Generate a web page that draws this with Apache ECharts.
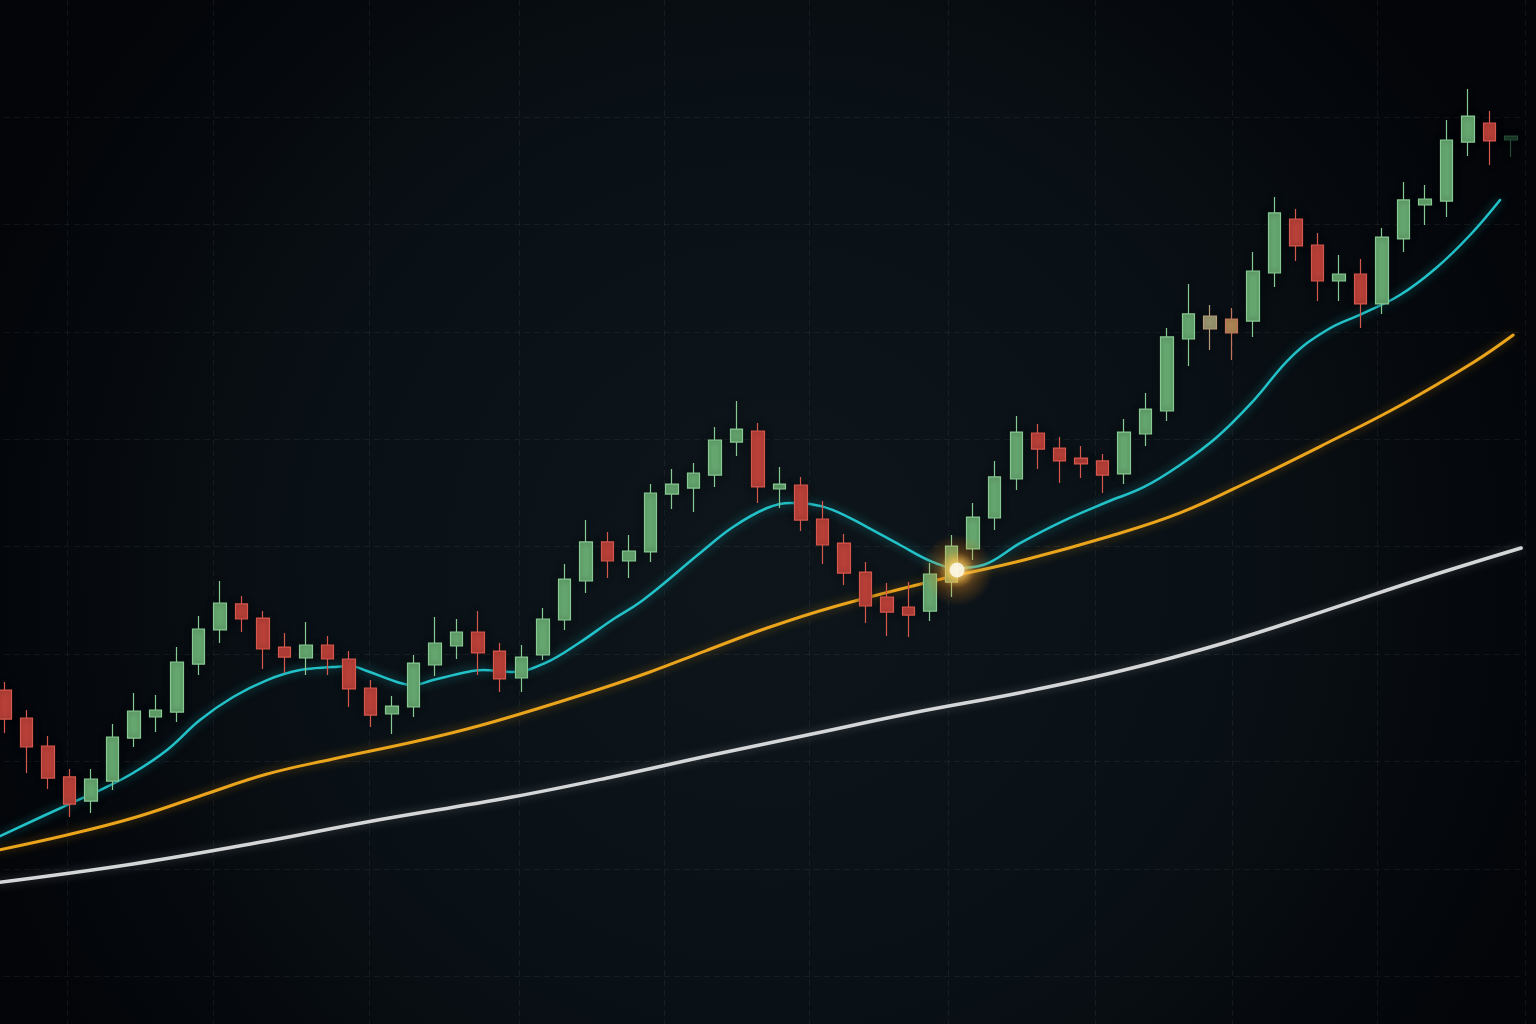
<!DOCTYPE html>
<html>
<head>
<meta charset="utf-8">
<title>Candles with moving averages</title>
<script src="https://cdn.jsdelivr.net/npm/echarts@6/dist/echarts.min.js"></script>
<style>
  html, body { margin: 0; padding: 0; background: #070b0f; }
  #chart { width: 1536px; height: 1024px; }
</style>
</head>
<body>
<div id="chart"></div>
<script>
// OHLC: [open, close, low, high]
const candles = [
  [126.66, 123.96, 122.66, 127.41], [124.06, 121.36, 118.94, 124.80], [121.45, 118.47, 117.45, 122.38],
  [118.57, 116.05, 114.84, 119.31], [116.33, 118.38, 115.21, 119.31], [118.19, 122.29, 117.35, 123.50],
  [122.19, 124.71, 121.36, 126.38], [124.15, 124.80, 122.75, 126.20], [124.61, 129.27, 123.68, 130.66],
  [129.08, 132.34, 128.06, 133.55], [132.25, 134.76, 131.04, 136.81], [134.67, 133.27, 132.06, 135.41],
  [133.36, 130.48, 128.62, 134.01], [130.66, 129.73, 128.24, 131.97], [129.64, 130.85, 128.06, 132.99],
  [130.85, 129.55, 128.06, 131.69], [129.55, 126.76, 125.08, 130.29], [126.85, 124.33, 123.22, 127.59],
  [124.43, 125.17, 122.57, 126.10], [125.08, 129.17, 124.15, 129.92], [128.99, 131.04, 127.96, 133.46],
  [130.76, 132.06, 129.55, 133.27], [132.06, 130.11, 128.06, 134.01], [130.29, 127.69, 126.48, 131.04],
  [127.78, 129.73, 126.48, 130.85], [129.92, 133.27, 129.45, 134.29], [133.18, 136.99, 132.25, 138.39],
  [136.81, 140.44, 135.69, 142.48], [140.44, 138.67, 137.09, 141.37], [138.67, 139.60, 137.09, 141.09],
  [139.51, 145.00, 138.57, 145.83], [144.90, 145.83, 143.51, 147.23], [145.46, 146.86, 143.23, 147.79],
  [146.67, 149.93, 145.56, 151.14], [149.74, 150.95, 148.44, 153.56], [150.77, 145.56, 144.07, 151.51],
  [145.37, 145.83, 143.60, 147.42], [145.74, 142.48, 141.46, 146.49], [142.58, 140.16, 138.39, 144.25],
  [140.34, 137.55, 136.43, 141.18], [137.64, 134.48, 132.90, 138.57], [135.32, 133.92, 131.69, 136.62],
  [134.39, 133.64, 131.59, 136.71], [134.01, 137.46, 133.08, 138.48], [136.71, 140.06, 135.32, 141.09],
  [139.79, 142.76, 138.76, 144.07], [142.67, 146.49, 141.55, 147.98], [146.30, 150.67, 145.28, 152.16],
  [150.58, 149.09, 147.23, 151.42], [149.18, 147.98, 145.93, 150.21], [148.25, 147.70, 146.39, 149.37],
  [147.98, 146.67, 145.00, 148.63], [146.77, 150.67, 145.83, 151.88], [150.49, 152.81, 149.37, 154.30],
  [152.63, 159.52, 151.70, 160.35], [159.33, 161.66, 156.82, 164.45], [160.26, 161.47, 158.31, 162.49],
  [161.19, 159.89, 157.37, 162.21], [161.00, 165.66, 159.52, 167.43], [165.47, 171.06, 164.17, 172.55],
  [170.50, 167.99, 166.59, 171.43], [168.08, 164.73, 162.87, 169.20], [164.73, 165.38, 162.87, 167.15],
  [165.38, 162.59, 160.35, 166.78], [162.59, 168.82, 161.66, 169.66], [168.64, 172.27, 167.43, 173.94],
  [171.80, 172.36, 169.94, 173.66], [172.17, 177.85, 170.68, 179.71], [177.66, 180.08, 176.36, 182.60],
  [179.43, 177.76, 175.52, 180.55], [177.85, 178.22, 176.27, 178.22]
];
const days = candles.map((_, i) => 'D' + (i + 1));

// moving averages as [candle index, value]
const maFast = [
  [-0.5, 112.8], [2.89, 115.96], [4.43, 117.35], [5.96, 118.94], [7.54, 121.08], [9.07, 123.87],
  [10.61, 126.01], [12.19, 127.59], [13.72, 128.52], [15.25, 128.8], [16.04, 128.9], [16.83, 128.43],
  [18.37, 127.31], [18.97, 127.13], [19.9, 127.59], [21.48, 128.34], [22.22, 128.52], [23.57, 128.34],
  [25.1, 129.17], [26.68, 131.04], [28.22, 133.18], [29.66, 135.04], [32.31, 139.41], [33.84, 141.83],
  [35.42, 143.6], [36.49, 144.07], [37.42, 143.97], [38.49, 143.41], [40.07, 141.83], [41.6, 140.16],
  [43.13, 138.57], [44.25, 138.02], [45.46, 138.3], [47.18, 140.34], [49.17, 142.39], [51.22, 144.16],
  [52.94, 145.56], [54.61, 147.6], [56.33, 150.21], [58.05, 153.65], [59.77, 157.65], [61.44, 160.17],
  [63.16, 161.75], [64.83, 163.42], [66.51, 165.94], [68.09, 169.01], [69.48, 172.27]
];
const maMid = [
  [-0.5, 111.68], [2.89, 113.17], [5.96, 114.75], [9.07, 116.8], [12.19, 118.84], [15.25, 120.24],
  [18.97, 121.82], [21.48, 123.03], [23.94, 124.43], [27.66, 126.76], [29.98, 128.34], [32.54, 130.29],
  [35.42, 132.43], [38.49, 134.39], [43.13, 136.81], [47.36, 138.76], [51.22, 140.9], [54.61, 143.14],
  [58.05, 146.3], [61.44, 149.65], [64.88, 153.19], [68.27, 157.19], [70.09, 159.7]
];
const maSlow = [
  [-0.5, 108.7], [5.96, 110.47], [12.19, 112.61], [16.83, 114.38], [23.57, 116.7], [28.22, 118.57],
  [32.86, 120.61], [37.51, 122.57], [42.16, 124.52], [47.36, 126.48], [52.01, 128.52], [56.66, 131.04],
  [61.3, 134.01], [65.95, 137.09], [70.46, 139.88]
];

// where the fast average touches the mid one
const crossPoint = [44.25, 137.83];

// grid: price levels and the candle positions of the vertical lines
const priceMin = 100;
const priceMax = 190;
const priceStep = 10;
const vGridAt = [2.89, 9.68, 16.93, 23.9, 30.63, 37.37, 43.83, 50.66, 57.03, 63.77, 70.64];

const UP = '#68aa72', UP_EDGE = '#86c993';
const DOWN = '#bd423a', DOWN_EDGE = '#d6574d';

// a few candles in the picture carry odd tints
const oddCandles = {
  56: { color: '#9d9a72', color0: '#9d9a72', borderColor: '#b69a7a', borderColor0: '#b69a7a' },
  57: { color: '#b48a57', color0: '#b48a57', borderColor: '#c0765c', borderColor0: '#c0765c' },
  70: { color: '#1d3b2a', color0: '#1d3b2a', borderColor: '#244a34', borderColor0: '#244a34' },
};

const chart = echarts.init(document.getElementById('chart'));

const gridLine = { show: true, lineStyle: { color: 'rgba(150,170,180,0.09)', type: [6, 4], width: 1 } };
const bare = { axisLine: { show: false }, axisTick: { show: false }, axisLabel: { show: false } };

function maSeries(data, color, width, glow) {
  return {
    type: 'line',
    xAxisIndex: 1,
    yAxisIndex: 0,
    data,
    smooth: 0.4,
    showSymbol: false,
    silent: true,
    z: 2,
    lineStyle: { color, width, shadowBlur: 10, shadowColor: glow, cap: 'round' },
  };
}

chart.setOption({
  animation: false,
  backgroundColor: {
    type: 'radial', x: 0.5, y: 0.55, r: 0.8,
    colorStops: [
      { offset: 0, color: '#0e161b' },
      { offset: 0.55, color: '#0a1116' },
      { offset: 1, color: '#030509' },
    ],
  },
  grid: [
    { left: -6, right: 14, top: 9.45, bottom: 47.5, outerBoundsMode: 'none' },
    { left: -6, right: 3.3, top: 0, bottom: 0, outerBoundsMode: 'none' },
  ],
  xAxis: [
    { type: 'category', gridIndex: 0, data: days, boundaryGap: true, ...bare, splitLine: { show: false } },
    { type: 'value', gridIndex: 0, min: -0.5, max: 70.5, ...bare, splitLine: { show: false } },
    {
      type: 'value', gridIndex: 1, min: -0.5, max: 71,
      axisLine: { show: false }, axisLabel: { show: false },
      axisTick: { show: false, customValues: vGridAt },
      splitLine: gridLine,
    },
  ],
  yAxis: [
    {
      type: 'value', gridIndex: 0, min: priceMin, max: priceMax, interval: priceStep, ...bare,
      splitLine: { ...gridLine, showMaxLine: false },
    },
    { type: 'value', gridIndex: 1, min: 0, max: 1, ...bare, splitLine: { show: false } },
  ],
  series: [
    maSeries(maSlow, '#d4d6d7', 3.5, 'rgba(255,255,255,0.25)'),
    maSeries(maMid, '#eba51d', 3, 'rgba(240,160,20,0.45)'),
    maSeries(maFast, '#22c2c8', 2.5, 'rgba(30,200,205,0.55)'),
    {
      type: 'candlestick',
      xAxisIndex: 0,
      yAxisIndex: 0,
      barWidth: 13,
      z: 3,
      itemStyle: {
        color: UP, color0: DOWN, borderColor: UP_EDGE, borderColor0: DOWN_EDGE, borderWidth: 1.2,
        shadowBlur: 6, shadowColor: 'rgba(0,0,0,0.5)',
      },
      data: candles.map((c, i) => (oddCandles[i] ? { value: c, itemStyle: oddCandles[i] } : c)),
    },
    {
      type: 'scatter',
      xAxisIndex: 1,
      yAxisIndex: 0,
      z: 5,
      silent: true,
      symbolSize: 72,
      data: [crossPoint],
      itemStyle: {
        color: {
          type: 'radial', x: 0.5, y: 0.5, r: 0.5,
          colorStops: [
            { offset: 0, color: 'rgba(255,240,180,1)' },
            { offset: 0.25, color: 'rgba(255,185,60,0.85)' },
            { offset: 0.5, color: 'rgba(255,150,30,0.35)' },
            { offset: 1, color: 'rgba(255,140,20,0)' },
          ],
        },
      },
    },
    {
      type: 'scatter',
      xAxisIndex: 1,
      yAxisIndex: 0,
      z: 6,
      silent: true,
      symbolSize: 15,
      data: [crossPoint],
      itemStyle: { color: '#fffdf2', shadowBlur: 14, shadowColor: '#ffe08a' },
    },
  ],
});
</script>
</body>
</html>
